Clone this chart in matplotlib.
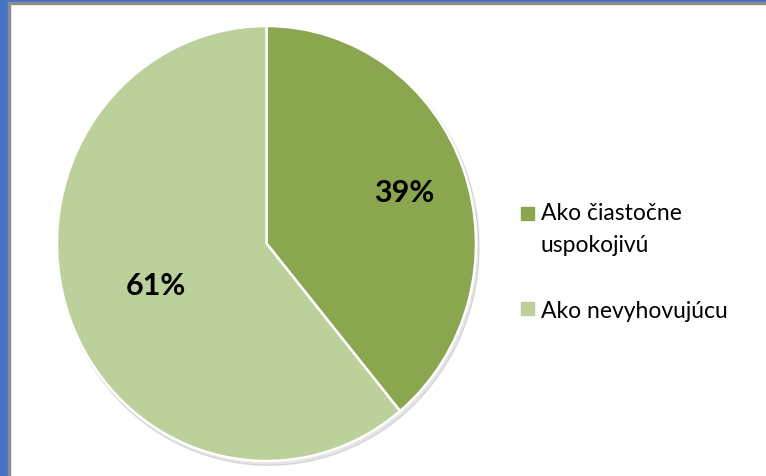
import numpy as np
import matplotlib.pyplot as plt
from matplotlib.patches import Rectangle, Ellipse

# data
labels = ["Ako čiastočne\nuspokojivú", "Ako nevyhovujúcu"]
values = [39, 61]
colors = ["#8AA74F", "#BBD09A"]
pct_dist = [0.7, 0.56]

W, H = 766, 477
fig = plt.figure(figsize=(W / 100, H / 100), dpi=100)
fig.patch.set_facecolor("white")

# slide frame (blue border + grey line)
fig.patches.append(Rectangle((0, 0), 8 / W, 1, transform=fig.transFigure, color="#4472C4", zorder=0))
fig.patches.append(Rectangle((8 / W, 0), 2 / W, 1 - 3 / H, transform=fig.transFigure, color="#8C8C8C", zorder=0))
fig.patches.append(Rectangle((0, 1 - 3 / H), 1, 3 / H, transform=fig.transFigure, color="#4472C4", zorder=0))
fig.patches.append(Rectangle((8 / W, 1 - 5 / H), 1, 2 / H, transform=fig.transFigure, color="#8C8C8C", zorder=0))

# pie axes, slightly taller than wide like the reference
ax = fig.add_axes([57 / W, (H - 462) / H, 419 / W, 435 / H])
shadow = Ellipse((0.01, -0.015), 2.01, 2.01, color="#000000", alpha=0.10, zorder=0)
shadow.set_clip_on(False)
ax.add_patch(shadow)
wedges, texts, autotexts = ax.pie(values, colors=colors, startangle=90, counterclock=False,
                                  autopct="%d%%",
                                  wedgeprops={"edgecolor": "white", "linewidth": 1.8, "clip_on": False},
                                  textprops={"fontsize": 22, "fontweight": "bold",
                                             "family": "Lato", "color": "black"})
for w, t, d in zip(wedges, autotexts, pct_dist):
    w.set_zorder(2)
    ang = np.deg2rad((w.theta1 + w.theta2) / 2)
    t.set_position((d * np.cos(ang), d * np.sin(ang)))
    t.set_zorder(3)
ax.set_aspect("auto")
ax.set_xlim(-1, 1)
ax.set_ylim(-1, 1)
ax.axis("off")

# legend drawn by hand to match the layout
sq = 13
square_tops = [208, 303]
baselines = [220, 318]
for lab, col, top, base in zip(labels, colors, square_tops, baselines):
    fig.patches.append(Rectangle((521 / W, 1 - (top + sq) / H), sq / W, sq / H,
                                 transform=fig.transFigure, color=col))
    lines = lab.split("\n")
    for k, line in enumerate(lines):
        fig.text(541 / W, 1 - (base + 32 * k) / H, line, fontsize=16.5, family="Lato",
                 va="baseline", ha="left")

fig.savefig("out.png", dpi=100)
